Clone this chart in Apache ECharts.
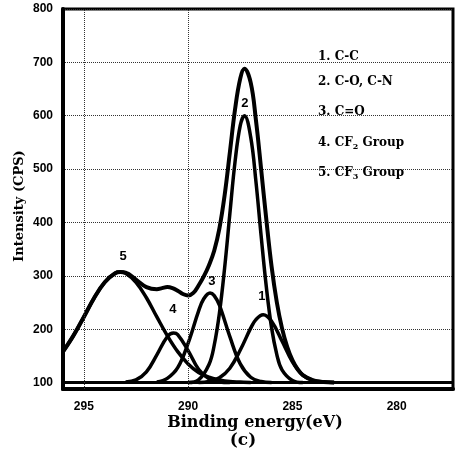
<!DOCTYPE html>
<html>
<head>
<meta charset="utf-8">
<script src="https://cdn.jsdelivr.net/npm/echarts@6/dist/echarts.min.js"></script>
<style>
  html, body { margin: 0; padding: 0; background: #fff; }
  #chart { width: 457px; height: 460px; }
</style>
</head>
<body>
<div id="chart"></div>
<script>
// tick labels
const energyTicks = [295, 290, 285, 280]
const intensityTicks = [100, 200, 300, 400, 500, 600, 700, 800]
const energyGrid = [295, 290]

// fitted components, [binding energy, counts]
const peak1CC = [[289.5, 100], [289, 102], [288.5, 109], [288, 127], [287.5, 161], [287, 202], [286.75, 218], [286.4, 227], [286, 215], [285.5, 178], [285, 139], [284.5, 114], [284, 104], [283.5, 101], [283, 100]]
const peak2CO = [[290, 100], [289.5, 105], [289, 134], [288.75, 170], [288.5, 230], [288.25, 315], [288, 416], [287.75, 514], [287.5, 582], [287.3, 600], [287, 560], [286.75, 477], [286.5, 375], [286.25, 279], [286, 203], [285.75, 153], [285.5, 124], [285, 104], [284.5, 100]]
const peak3CdO = [[291.5, 101], [291, 108], [290.5, 128], [290, 174], [289.5, 234], [289.25, 257], [288.95, 268], [288.75, 263], [288.5, 245], [288, 186], [287.5, 135], [287, 110], [286.5, 102], [286, 100]]
const peak4CF2 = [[293, 101], [292.5, 105], [292, 120], [291.5, 152], [291, 186], [290.7, 193], [290.5, 190], [290, 160], [289.5, 125], [289, 107], [288.5, 101], [288, 100]]
const peak5CF3 = [[296, 158], [295.5, 188], [295, 223], [294.5, 259], [294, 288], [293.5, 305], [293.25, 307], [293, 305], [292.5, 288], [292, 259], [291.5, 223], [291, 188], [290.5, 158], [290, 135], [289.5, 119], [289, 110], [288.5, 105], [288, 102], [287.5, 101], [287, 100]]
// measured envelope
const envelope = [[296, 158], [295.5, 188], [295, 223], [294.5, 259], [294, 288], [293.5, 305], [293.25, 307], [293, 306], [292.5, 293], [292, 279], [291.5, 275], [291.25, 277], [291, 279], [290.75, 277], [290.5, 272], [290.25, 266], [290, 263], [289.75, 268], [289.5, 282], [289.25, 299], [289, 320], [288.75, 347], [288.5, 389], [288.25, 451], [288, 531], [287.75, 612], [287.5, 670], [287.3, 688], [287, 662], [286.75, 592], [286.5, 500], [286.25, 405], [286, 318], [285.75, 251], [285.5, 202], [285.25, 167], [285, 142], [284.75, 125], [284.5, 114], [284, 104], [283.5, 101], [283, 100]]
const baseline = [[296, 100], [277.3, 100]]

// peak numbers written next to each component
const peakNames = ['1', '2', '3', '4', '5']
const peakNameE = [286.46, 287.28, 288.86, 290.73, 293.12]
const peakNameV = [261, 624, 289, 237, 336]

const legendLines = [
  '1. C-C',
  '2. C-O, C-N',
  '3. C=O',
  '4. CF{sub|2} Group',
  '5. CF{sub|3} Group'
]

const serif = '"DejaVu Serif", "Liberation Serif", serif'
const sans = '"Liberation Sans", Arial, sans-serif'

const curve = (data, w) => ({
  type: 'line',
  data: data,
  smooth: 0.4,
  symbol: 'none',
  silent: true,
  lineStyle: { color: '#000', width: w }
})

let myChart = echarts.init(document.getElementById('chart'))

let options = {
  animation: false,
  backgroundColor: '#fff',
  grid: {
    left: 63,
    right: 4,
    top: 9,
    bottom: 71,
    show: true,
    borderColor: '#000',
    borderWidth: 3
  },
  xAxis: {
    type: 'value',
    inverse: true,
    min: 277.3,
    max: 296,
    axisLine: { show: true, onZero: false, lineStyle: { color: '#000', width: 4 } },
    axisTick: { show: false, customValues: energyTicks },
    axisLabel: {
      customValues: energyTicks,
      color: '#000',
      fontFamily: sans,
      fontWeight: 'bold',
      fontSize: 12,
      margin: 12
    },
    splitLine: { show: false }
  },
  yAxis: {
    type: 'value',
    min: 88,
    max: 800,
    axisLine: { show: true, onZero: false, lineStyle: { color: '#000', width: 4 } },
    axisTick: { show: false, customValues: intensityTicks },
    axisLabel: {
      customValues: intensityTicks,
      color: '#000',
      fontFamily: sans,
      fontWeight: 'bold',
      fontSize: 12,
      margin: 10
    },
    splitLine: { show: true, lineStyle: { color: '#333', type: 'dotted', width: 1 } }
  },
  graphic: [
    {
      type: 'text',
      x: 20,
      y: 206,
      rotation: Math.PI / 2,
      style: {
        text: 'Intensity (CPS)',
        font: 'bold 13px ' + serif,
        fill: '#000',
        align: 'center',
        verticalAlign: 'middle'
      }
    },
    {
      type: 'text',
      x: 255,
      y: 423,
      style: {
        text: 'Binding energy(eV)',
        font: 'bold 16px ' + serif,
        fill: '#000',
        align: 'center',
        verticalAlign: 'middle'
      }
    },
    {
      type: 'text',
      x: 243,
      y: 441,
      style: {
        text: '(c)',
        font: 'bold 17px ' + serif,
        fill: '#000',
        align: 'center',
        verticalAlign: 'middle'
      }
    }
  ].concat(legendLines.map((t, i) => ({
    type: 'text',
    x: 318,
    y: [57, 82, 112, 143, 173][i],
    style: {
      text: t,
      font: 'bold 12px ' + serif,
      fill: '#000',
      verticalAlign: 'middle',
      rich: {
        sub: { fontSize: 8, fontWeight: 'bold', fontFamily: serif, verticalAlign: 'bottom', padding: [8, 0, 0, 0] }
      }
    }
  }))),
  series: [
    Object.assign(curve(baseline, 3), {
      markLine: {
        silent: true,
        symbol: 'none',
        label: { show: false },
        lineStyle: { color: '#333', type: 'dotted', width: 1 },
        data: energyGrid.map(e => ({ xAxis: e }))
      }
    }),
    curve(peak5CF3, 3.5),
    curve(peak4CF2, 3.5),
    curve(peak3CdO, 3.5),
    curve(peak2CO, 3.5),
    curve(peak1CC, 3.5),
    curve(envelope, 4),
    {
      type: 'scatter',
      symbolSize: 0,
      silent: true,
      itemStyle: { opacity: 1 },
      data: peakNames.map((n, i) => [peakNameE[i], peakNameV[i], n]),
      label: {
        show: true,
        position: 'inside',
        formatter: p => p.value[2],
        color: '#000',
        opacity: 1,
        fontFamily: sans,
        fontWeight: 'bold',
        fontSize: 13
      }
    }
  ]
}

myChart.setOption(options)
</script>
</body>
</html>
